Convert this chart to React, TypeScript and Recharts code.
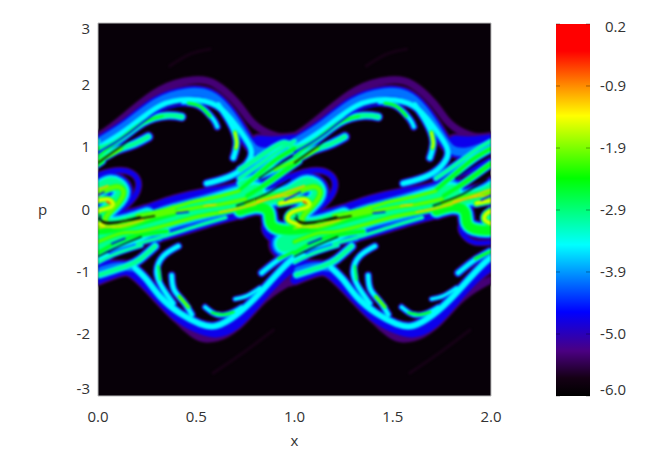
import React from 'react';
import { LineChart, Line, BarChart, Bar, XAxis, YAxis, ReferenceArea } from 'recharts';

type Pt = [number, number];
type Streak = { pts: Pt[]; peak: number; w: number };

// axis ticks
const xTicks = [0, 0.5, 1, 1.5, 2];
const pTicks = [-3, -2, -1, 0, 1, 2, 3];
const scaleTicks = [-6, -4.967, -3.933, -2.9, -1.867, -0.833, 0.2];
const scaleLabels = ['-6.0', '-5.0', '-3.9', '-2.9', '-1.9', '-0.9', '0.2'];

// colour scale
const rampLevels = [-6, -5.7, -5.25, -4.6, -3.48, -2.37, -1.33, -0.83, -0.25, 0.2];
const rampColours = ['#000000', '#150015', '#4b0082', '#0000ff', '#00ffff', '#00ff00', '#ffff00', '#ff8c00', '#ff0000', '#ff0000'];

// contour levels painted from the outside of a filament to its core
const paintLevels = [-5.7, -5.3, -4.7, -4.1, -3.5, -3.0, -2.5, -2.0, -1.5, -1.0, -0.4];

// The field repeats every 1.0 in x: filaments were read once (first period)
// and are drawn again at these offsets.
const periods = [-1, 0, 1];

// filaments, as [x, p]
const envelopeTop: Pt[] = [[-0.1, 1.1], [0, 1.18], [0.146, 1.52], [0.315, 1.92], [0.485, 2.08], [0.6, 2.01], [0.705, 1.72], [0.773, 1.44], [0.858, 1.24], [1, 1.18], [1.146, 1.52]];
const faintTop: Pt[] = [[0.366, 2.31], [0.47, 2.5], [0.57, 2.58]];
const mainTop: Pt[] = [[-0.05, 0.95], [0, 1.075], [0.146, 1.37], [0.298, 1.72], [0.451, 1.88], [0.57, 1.84], [0.655, 1.61], [0.731, 1.26], [0.799, 0.97], [0.892, 0.94], [1, 1.06]];
const patchTop: Pt[] = [[0.82, 1.06], [0.9, 1.05], [1.0, 1.08]];
const cyanTop: Pt[] = [[0, 0.995], [0.146, 1.29], [0.316, 1.67], [0.468, 1.77], [0.604, 1.67], [0.706, 1.34], [0.773, 1.02], [0.773, 0.81], [0.706, 0.59], [0.604, 0.46], [0.553, 0.42]];
const innerC: Pt[] = [[-0.277, 0.64], [-0.176, 0.85], [-0.057, 1.07], [0, 1.0], [0.112, 1.13], [0.231, 1.4], [0.349, 1.51], [0.426, 1.49]];
const innerCCore: Pt[] = [[0, 0.85], [0.112, 1.13], [0.231, 1.4], [0.33, 1.5]];
const innerD: Pt[] = [[-0.277, 0.42], [-0.108, 0.64], [0.03, 0.85], [0.095, 0.96], [0.18, 1.05], [0.256, 1.17]];
const innerDCore: Pt[] = [[-0.1, 0.64], [0.03, 0.82], [0.12, 0.98]];
const arcE: Pt[] = [[0.434, 1.72], [0.519, 1.66], [0.587, 1.45], [0.607, 1.33]];
const arcECore: Pt[] = [[0.46, 1.71], [0.519, 1.66], [0.57, 1.5]];
const arcF: Pt[] = [[0.612, 1.69], [0.672, 1.4], [0.706, 1.1], [0.689, 0.83]];
const arcFCore: Pt[] = [[0.697, 1.24], [0.706, 1.08], [0.702, 0.99]];
const riseH: Pt[] = [[0.723, 0.32], [0.824, 0.59], [0.909, 0.81], [1.0, 0.98]];
const riseI: Pt[] = [[0.76, 0.22], [0.86, 0.42], [0.94, 0.6], [1.02, 0.78]];
const riseJ: Pt[] = [[0.72, 0.5], [0.82, 0.72], [0.92, 0.95], [1.0, 1.1]];
const gapTop: Pt[] = [[0, 0.92], [0.146, 1.2], [0.3, 1.56], [0.45, 1.68]];
const gapInner: Pt[] = [[0, 0.75], [0.1, 0.98], [0.2, 1.2]];

const edgeTop: Pt[] = [[-0.277, 0.207], [-0.108, 0.42], [0.062, 0.61], [0.172, 0.583], [0.206, 0.368], [0.155, 0.1], [0.104, -0.06], [0.232, 0.019], [0.384, 0.18], [0.553, 0.3], [0.689, 0.376], [0.824, 0.54], [1.0, 0.8]];
const bandBase: Pt[] = [[-0.05, -0.55], [0.17, -0.38], [0.34, -0.15], [0.51, 0], [0.66, 0.14], [0.8, 0.27]];
const sBody: Pt[] = [[0.72, 0.05], [0.86, 0.17], [0.98, 0.28], [1.06, 0.42], [1.12, 0.3], [1.08, 0.08], [1.02, -0.14], [1.09, -0.24], [1.25, -0.1]];
const sYellowOuter: Pt[] = [[0.757, 0.1], [0.892, 0.207], [1.011, 0.288], [1.096, 0.368], [1.13, 0.26], [1.087, 0.046], [1.037, -0.17], [1.113, -0.277], [1.248, -0.142], [1.384, 0.019]];
const sGreenLower: Pt[] = [[0.723, -0.02], [0.807, 0.046], [0.867, -0.035], [0.879, -0.223], [0.943, -0.33], [1.079, -0.3], [1.232, -0.17], [1.384, -0.035]];
const sCentre: Pt[] = [[0.926, 0.1], [1.011, 0.153], [1.062, 0.153], [1.07, 0.046], [0.993, -0.035], [0.969, -0.17], [1.028, -0.25]];
const sOrangeUpper: Pt[] = [[0.807, 0.126], [0.926, 0.207], [1.011, 0.234]];
const sOrangeLower: Pt[] = [[1.011, -0.288], [1.113, -0.266], [1.232, -0.16]];
const sRed: Pt[] = [[1.045, 0.126], [1.06, 0.1]];
const sDark: Pt[] = [[1.011, -0.09], [1.02, -0.196], [1.079, -0.223], [1.215, -0.116]];
const sBlue: Pt[] = [[0.95, 0.15], [1.03, 0.28]];

const bandStrandA: Pt[] = [[0, -0.3], [0.15, -0.18], [0.3, -0.1], [0.5, 0.03], [0.62, 0.08], [0.75, 0.17]];
const bandStrandB: Pt[] = [[0, -0.52], [0.12, -0.38], [0.2, -0.36], [0.35, -0.25], [0.5, -0.12], [0.65, -0.03], [0.8, 0.08]];
const bandStrandC: Pt[] = [[0, -0.7], [0.1, -0.52], [0.2, -0.42], [0.35, -0.35]];
const bandStrandD: Pt[] = [[0.2, -0.1], [0.35, 0], [0.48, 0.12], [0.6, 0.2], [0.72, 0.3]];
const bandStrandE: Pt[] = [[0.2, -0.55], [0.35, -0.42], [0.5, -0.27], [0.65, -0.13]];
const bandStrandF: Pt[] = [[0, -0.85], [0.1, -0.7], [0.22, -0.58]];
const bandOrange: Pt[] = [[0.62, -0.04], [0.757, 0.05], [0.87, 0.17], [0.977, 0.3], [1.05, 0.38]];
const bandSpot: Pt[] = [[0.54, 0.06], [0.6, 0.08]];
const bandBlue: Pt[] = [[0.4, -0.06], [0.46, -0.04]];
const bandBlue2: Pt[] = [[0.07, -0.55], [0.136, -0.465]];
const bandDark: Pt[] = [[0, -0.14], [0.05, -0.207], [0.17, -0.169], [0.288, -0.105]];
const bandDark2: Pt[] = [[0.706, 0.06], [0.85, 0.24], [0.977, 0.48]];
const bandDark3: Pt[] = [[0.82, 0.5], [0.9, 0.68], [0.99, 0.86]];
const bandDark4: Pt[] = [[0, -0.76], [0.1, -0.6], [0.22, -0.44]];

const edgeLower: Pt[] = [[0.316, -0.48], [0.485, -0.32], [0.62, -0.19], [0.757, -0.08], [0.82, -0.02], [0.867, -0.07], [0.845, -0.277], [0.875, -0.46], [0.943, -0.54], [1.096, -0.5], [1.25, -0.48], [1.316, -0.48]];
const edgeLeft: Pt[] = [[0, -0.86], [0.146, -0.59], [0.316, -0.48]];

const envelopeBottom: Pt[] = [[-0.02, -1.18], [0.078, -1.02], [0.146, -0.97], [0.23, -1.2], [0.316, -1.46], [0.4, -1.76], [0.485, -2.0], [0.553, -2.08], [0.655, -2.0], [0.756, -1.73], [0.858, -1.41], [0.98, -1.16], [1.08, -1.02]];
const faintBottom: Pt[] = [[0.587, -2.63], [0.74, -2.3], [0.892, -1.94]];
const mainBottom: Pt[] = [[0, -1.13], [0.112, -1.0], [0.188, -1.05], [0.3, -1.4], [0.4, -1.72], [0.5, -1.91], [0.6, -1.99], [0.705, -1.85], [0.824, -1.45], [0.977, -0.97], [1.1, -0.9]];
const patchBottom: Pt[] = [[0.02, -0.98], [0.1, -0.92], [0.18, -0.93]];
const cyanBottom: Pt[] = [[0.188, -0.94], [0.248, -1.13], [0.316, -1.4], [0.417, -1.67], [0.519, -1.84], [0.604, -1.87], [0.706, -1.69], [0.824, -1.34], [0.977, -0.83], [1.05, -0.75]];
const forkBottom: Pt[] = [[0.01, -1.05], [0.146, -0.91], [0.214, -0.8], [0.29, -0.59]];
const arcL: Pt[] = [[0.409, -0.59], [0.332, -0.75], [0.299, -0.99], [0.324, -1.24], [0.383, -1.51]];
const arcLCore: Pt[] = [[0.307, -0.91], [0.316, -1.13]];
const arcM: Pt[] = [[0.375, -1.06], [0.387, -1.29], [0.434, -1.48], [0.477, -1.69]];
const arcMCore: Pt[] = [[0.414, -1.4], [0.46, -1.57]];
const shortN: Pt[] = [[0.545, -1.57], [0.604, -1.69], [0.672, -1.67], [0.731, -1.57]];
const shortNCore: Pt[] = [[0.58, -1.66], [0.64, -1.69], [0.69, -1.65]];
const shortO: Pt[] = [[0.697, -1.44], [0.757, -1.39], [0.824, -1.26]];
const tipR: Pt[] = [[0.833, -1.02], [0.909, -0.83], [0.994, -0.67]];
const tipRCore: Pt[] = [[0.92, -0.79], [0.994, -0.68]];

const streaks: Streak[] = [
  { pts: faintTop, peak: -5.7, w: 4 },
  { pts: faintBottom, peak: -5.7, w: 4 },
  { pts: envelopeTop, peak: -5.25, w: 11 },
  { pts: envelopeBottom, peak: -5.25, w: 11 },
  { pts: mainTop, peak: -3.9, w: 17 },
  { pts: patchTop, peak: -4.2, w: 24 },
  { pts: mainBottom, peak: -4.4, w: 14 },
  { pts: patchBottom, peak: -3.8, w: 16 },
  { pts: cyanTop, peak: -3.1, w: 10 },
  { pts: cyanBottom, peak: -3.1, w: 11 },
  { pts: forkBottom, peak: -3.0, w: 12 },
  { pts: innerC, peak: -2.8, w: 11 },
  { pts: innerCCore, peak: -2.3, w: 5 },
  { pts: innerD, peak: -3.0, w: 12 },
  { pts: innerDCore, peak: -2.0, w: 7 },
  { pts: arcE, peak: -3.5, w: 9 },
  { pts: arcECore, peak: -2.2, w: 6 },
  { pts: arcF, peak: -3.2, w: 10 },
  { pts: arcFCore, peak: -1.5, w: 7 },
  { pts: riseH, peak: -2.5, w: 11 },
  { pts: riseI, peak: -2.2, w: 10 },
  { pts: riseJ, peak: -3.0, w: 9 },
  { pts: edgeTop, peak: -4.6, w: 9 },
  { pts: edgeLower, peak: -4.6, w: 8 },
  { pts: edgeLeft, peak: -3.8, w: 7 },
  { pts: bandBase, peak: -2.6, w: 36 },
  { pts: sBody, peak: -2.6, w: 26 },
  { pts: sGreenLower, peak: -2.1, w: 20 },
  { pts: sYellowOuter, peak: -1.6, w: 11 },
  { pts: sCentre, peak: -1.3, w: 10 },
  { pts: sOrangeUpper, peak: -0.7, w: 3 },
  { pts: sOrangeLower, peak: -0.8, w: 3 },
  { pts: sRed, peak: -0.2, w: 4 },
  { pts: bandStrandA, peak: -1.6, w: 8 },
  { pts: bandStrandB, peak: -1.9, w: 9 },
  { pts: bandStrandC, peak: -2.2, w: 9 },
  { pts: bandStrandD, peak: -1.7, w: 7 },
  { pts: bandStrandE, peak: -2.6, w: 6 },
  { pts: bandStrandF, peak: -3.0, w: 7 },
  { pts: bandOrange, peak: -0.7, w: 3 },
  { pts: bandSpot, peak: -0.6, w: 3 },
  { pts: arcL, peak: -3.2, w: 9 },
  { pts: arcLCore, peak: -2.5, w: 5 },
  { pts: arcM, peak: -3.2, w: 9 },
  { pts: arcMCore, peak: -1.7, w: 6 },
  { pts: shortN, peak: -3.4, w: 8 },
  { pts: shortNCore, peak: -2.2, w: 5 },
  { pts: shortO, peak: -3.4, w: 7 },
  { pts: tipR, peak: -3.4, w: 10 },
  { pts: tipRCore, peak: -2.2, w: 6 },
];
const darkStrands: Pt[][] = [bandDark, bandDark2, bandDark3, bandDark4, sDark, gapInner];
const blueStrands: Pt[][] = [bandBlue, bandBlue2, sBlue, gapTop];
const frameRows = [{ x: 0, p: 0 }, { x: 2, p: 0 }];

const W = 654;
const H = 466;
const plot = { top: 23, right: 163, bottom: 70, left: 98 };
const font = { fontFamily: '"Open Sans", sans-serif', fontSize: 15, fill: '#333' };

const colourOf = (level: number) => {
  let i = 0;
  while (i < rampLevels.length - 2 && level > rampLevels[i + 1]) i++;
  const t = Math.min(1, Math.max(0, (level - rampLevels[i]) / (rampLevels[i + 1] - rampLevels[i])));
  const a = rampColours[i];
  const b = rampColours[i + 1];
  const ch = (s: string, k: number) => parseInt(s.slice(1 + k * 2, 3 + k * 2), 16);
  const mix = [0, 1, 2].map((k) => Math.round(ch(a, k) + (ch(b, k) - ch(a, k)) * t));
  return `rgb(${mix.join(',')})`;
};

// all periods of one filament as one series, broken by a null between them
const repeated = (pts: Pt[]) =>
  periods.flatMap((off) => [
    ...pts.map(([x, p]) => ({ x: x + off, p })),
    { x: pts[pts.length - 1][0] + off, p: null },
  ]);

const filamentLine = (key: string, pts: Pt[], colour: string, width: number) => (
  <Line
    key={key}
    data={repeated(pts)}
    dataKey="p"
    type="natural"
    stroke={colour}
    strokeWidth={width}
    strokeLinecap="round"
    strokeLinejoin="round"
    dot={false}
    activeDot={false}
    connectNulls={false}
    isAnimationActive={false}
  />
);

const PTick = ({ x, y, payload }: any) => {
  const dy = payload.value === 3 ? 6 : payload.value === -3 ? -7 : 0;
  return (
    <text x={x} y={y + dy} dy={5} textAnchor="end" {...font}>
      {payload.value}
    </text>
  );
};

const XTick = ({ x, y, payload }: any) => (
  <text x={x} y={y} dy={18} textAnchor="middle" {...font}>
    {payload.value.toFixed(1)}
  </text>
);

const ScaleTick = ({ x, y, index }: any) => {
  const dy = index === 0 ? -6 : index === scaleTicks.length - 1 ? 3 : 0;
  return (
    <g>
      <line x1={x - 42} x2={x - 38} y1={y} y2={y} stroke="#000" strokeOpacity={0.35} />
      <line x1={x - 12} x2={x - 8} y1={y} y2={y} stroke="#000" strokeOpacity={0.35} />
      <text x={x + 28} y={y + dy} dy={5} textAnchor="end" {...font}>
        {scaleLabels[index]}
      </text>
    </g>
  );
};

const App = () => {
  const filaments: React.ReactNode[] = [];
  paintLevels.forEach((level, li) => {
    streaks.forEach((s, si) => {
      if (level > s.peak) return;
      const width = s.w * Math.pow(1 - (level + 5.9) / (s.peak + 6.3), 0.5);
      filaments.push(filamentLine(`f${li}-${si}`, s.pts, colourOf(level), width));
    });
  });
  blueStrands.forEach((pts, i) => filaments.push(filamentLine(`b${i}`, pts, '#0000ff', 1.6)));
  darkStrands.forEach((pts, i) => filaments.push(filamentLine(`d${i}`, pts, '#050008', 1.4)));

  return (
    <div style={{ position: 'relative', width: W, height: H, margin: -8, background: '#fff' }}>
      <div style={{ position: 'absolute', left: 0, top: 0 }}>
        <LineChart width={W} height={H} data={frameRows} margin={{ top: plot.top, right: plot.right, bottom: 20, left: 30 }}>
          <XAxis
            type="number"
            dataKey="x"
            domain={[0, 2]}
            ticks={xTicks}
            interval={0}
            height={50}
            axisLine={false}
            tickLine={false}
            tick={<XTick />}
            label={{ value: 'x', position: 'insideBottom', offset: 0, ...font }}
          />
          <YAxis
            type="number"
            domain={[-3, 3]}
            ticks={pTicks}
            width={68}
            interval={0}
            axisLine={false}
            tickLine={false}
            tick={<PTick />}
            label={{ value: 'p', position: 'insideLeft', offset: 8, ...font }}
          />
          <ReferenceArea x1={0} x2={2} y1={-3} y2={3} fill="#070008" fillOpacity={1} stroke="#bbb" />
          <Line dataKey="p" stroke="none" dot={false} activeDot={false} isAnimationActive={false} />
        </LineChart>
      </div>
      <div
        style={{
          position: 'absolute',
          left: plot.left,
          top: plot.top,
          width: W - plot.left - plot.right,
          height: H - plot.top - plot.bottom,
          overflow: 'hidden',
        }}
      >
        <div style={{ position: 'absolute', left: -plot.left, top: -plot.top, filter: 'blur(0.8px)' }}>
          <LineChart width={W} height={H} margin={plot}>
            <XAxis hide type="number" dataKey="x" domain={[0, 2]} allowDataOverflow />
            <YAxis hide type="number" domain={[-3, 3]} allowDataOverflow />
            {filaments}
          </LineChart>
        </div>
      </div>
      <div style={{ position: 'absolute', left: 0, top: 0 }}>
        <BarChart
          width={W}
          height={H}
          data={[{ name: 'scale', span: [-6, 0.2] }]}
          margin={{ top: 24, right: 22, bottom: plot.bottom, left: 556 }}
          barCategoryGap={0}
        >
          <defs>
            <linearGradient id="ramp" x1="0" y1="1" x2="0" y2="0">
              {rampLevels.map((l, i) => (
                <stop key={l} offset={(l + 6) / 6.2} stopColor={rampColours[i]} />
              ))}
            </linearGradient>
          </defs>
          <XAxis hide dataKey="name" />
          <YAxis
            orientation="right"
            type="number"
            domain={[-6, 0.2]}
            ticks={scaleTicks}
            interval={0}
            width={42}
            axisLine={false}
            tickLine={false}
            tick={<ScaleTick />}
          />
          <Bar dataKey="span" fill="url(#ramp)" isAnimationActive={false} />
        </BarChart>
      </div>
    </div>
  );
};

export default App;
